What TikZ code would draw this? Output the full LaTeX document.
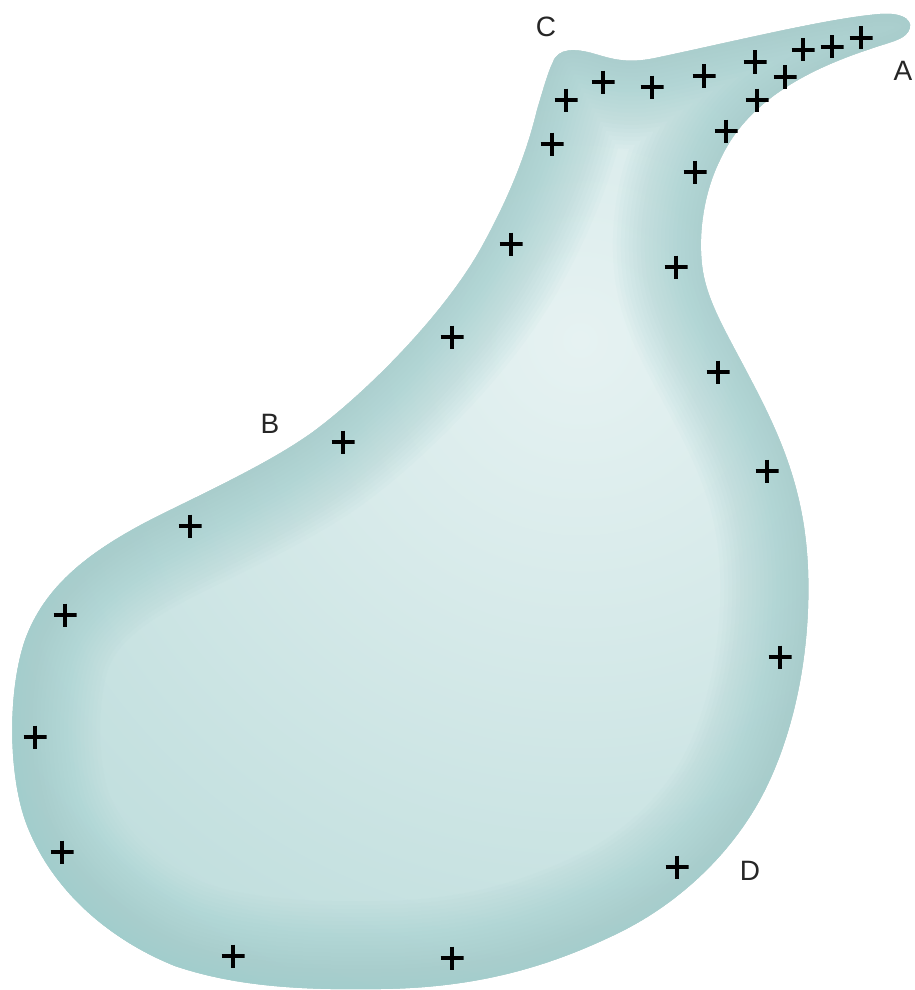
\documentclass[tikz,border=0pt]{standalone}
\usepackage{fontspec}
\setmainfont{Liberation Sans}
\definecolor{tealedge}{RGB}{160,205,204}
\definecolor{tealbase}{RGB}{188,220,219}
\definecolor{teallight}{RGB}{230,242,242}
\tikzset{
  charge/.style={minimum size=23pt, inner sep=0pt, outer sep=0pt,
    path picture={\draw[line width=4pt,black]
      (path picture bounding box.west) -- (path picture bounding box.east)
      (path picture bounding box.north) -- (path picture bounding box.south);}},
  lbl/.style={font=\fontsize{28}{30}\selectfont, text=black!85, inner sep=0pt}
}
\newcommand{\blobshape}{(553,62) .. controls (558,48) and (575,48) .. (595,54)
 .. controls (615,60) and (630,64) .. (660,57)
 .. controls (740,40) and (830,18) .. (880,14)
 .. controls (905,12) and (915,22) .. (908,32)
 .. controls (903,40) and (890,42) .. (870,49)
 .. controls (800,72) and (745,105) .. (720,160)
 .. controls (705,190) and (698,230) .. (702,265)
 .. controls (706,300) and (725,330) .. (750,378)
 .. controls (780,435) and (805,490) .. (808,570)
 .. controls (811,650) and (795,730) .. (765,790)
 .. controls (735,850) and (680,905) .. (610,937)
 .. controls (540,970) and (470,988) .. (380,989)
 .. controls (310,990) and (240,988) .. (175,966)
 .. controls (110,940) and (50,890) .. (25,820)
 .. controls (8,770) and (8,690) .. (25,640)
 .. controls (45,585) and (90,550) .. (160,515)
 .. controls (215,488) and (270,462) .. (310,434)
 .. controls (360,398) and (440,320) .. (480,250)
 .. controls (505,205) and (525,160) .. (537,110)
 .. controls (543,90) and (548,72) .. (553,62) -- cycle}
\begin{document}
\begin{tikzpicture}[x=1pt,y=-1pt]
\useasboundingbox (0,0) rectangle (915,990);
\begin{scope}
  \clip \blobshape;
  \fill[tealbase] (0,0) rectangle (915,990);
  \shade[inner color=teallight, outer color=tealbase] (580,340) circle (780);
  \foreach \w in {8,16,...,176}
    \draw[tealedge, line width=\w pt, opacity=0.055] \blobshape;
\end{scope}
\node[lbl] (A) at (903,71) {A};
\node[lbl] (B) at (270,424) {B};
\node[lbl] (C) at (546,27) {C};
\node[lbl] (D) at (750,871) {D};
\foreach \x/\y [count=\i] in {566/100, 603/82, 652/87, 704/76, 755/62, 785/77, 803/50, 832/47, 861/38,
  757/100, 726/131, 695/172, 552/144, 511/244, 676/267, 452/337, 718/372, 343/442, 767/471,
  190/526, 65/615, 780/657, 35/737, 62/852, 677/867, 233/956, 452/958}
  \node[charge] (p\i) at (\x,\y) {};
\end{tikzpicture}
\end{document}
